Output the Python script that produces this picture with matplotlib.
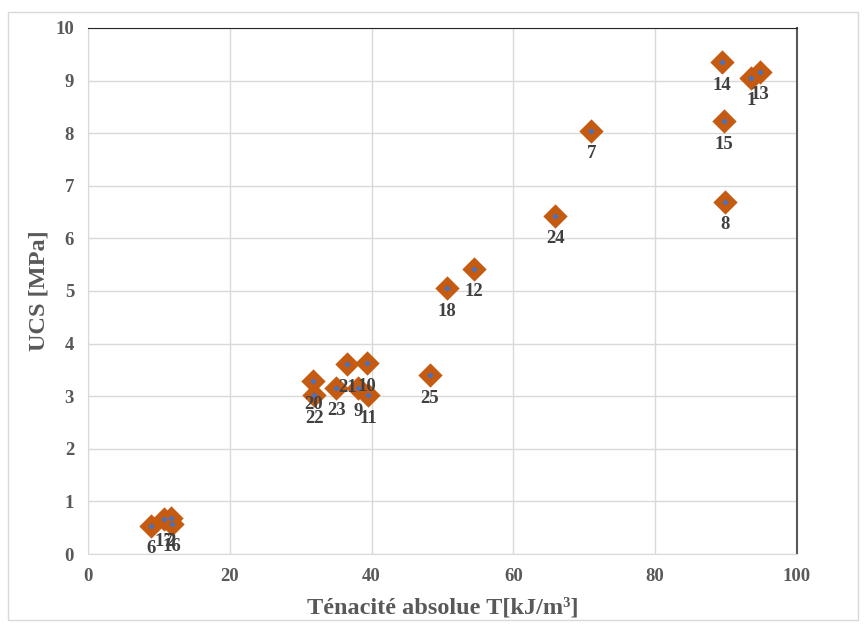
import matplotlib
matplotlib.use('Agg')
import matplotlib.pyplot as plt
from matplotlib.patches import Rectangle

# data
sample_ids = ['1', '2', '6', '7', '8', '9', '10', '11', '12', '13', '14', '15',
              '16', '17', '18', '20', '21', '22', '23', '24', '25']
toughness_kj_m3 = [93.6, 11.7, 8.9, 71.0, 89.9, 38.1, 39.4, 39.5, 54.4, 94.8, 89.4, 89.7,
                   11.8, 10.7, 50.7, 31.8, 36.6, 31.9, 35.0, 65.9, 48.2]
ucs_mpa = [9.05, 0.68, 0.54, 8.05, 6.70, 3.15, 3.63, 3.02, 5.42, 9.17, 9.35, 8.23,
           0.58, 0.67, 5.05, 3.28, 3.61, 3.02, 3.16, 6.43, 3.40]

x_ticks = [0, 20, 40, 60, 80, 100]
y_ticks = list(range(0, 11))

plt.rcParams['font.family'] = ['Liberation Serif', 'DejaVu Serif']

fig = plt.figure(figsize=(8.67, 6.26), dpi=100)
ax = fig.add_axes([0.1015, 0.115, 0.8175, 0.8403])

# outer chart frame
fig.patches.append(Rectangle((8 / 867, 1 - 620 / 626), 850 / 867, 608 / 626,
                             transform=fig.transFigure, fill=False,
                             edgecolor='#D9D9D9', linewidth=1.0))

ax.grid(True, color='#D9D9D9', linewidth=1.0, zorder=0)
ax.set_axisbelow(True)

ax.plot(toughness_kj_m3, ucs_mpa, linestyle='none', marker='D', markersize=10,
        markerfacecolor='#C55A11', markeredgecolor='#C55A11', markeredgewidth=2.2,
        zorder=3)
ax.plot(toughness_kj_m3, ucs_mpa, linestyle='none', marker='D', markersize=3.2,
        markerfacecolor='#4472C4', markeredgecolor='#4472C4', markeredgewidth=0,
        zorder=4)

for lab, x, y in zip(sample_ids, toughness_kj_m3, ucs_mpa):
    ax.annotate(lab, (x, y), xytext=(0, -23), textcoords='offset pixels',
                ha='center', va='center', fontsize=13.5, fontweight='bold',
                color='#404040', zorder=5)

ax.set_xlim(0, 100)
ax.set_ylim(0, 10)
ax.set_xticks(x_ticks)
ax.set_yticks(y_ticks)
ax.tick_params(length=0, labelsize=13.5, labelcolor='#595959', pad=10)
for t in ax.get_xticklabels() + ax.get_yticklabels():
    t.set_fontweight('bold')

ax.spines['left'].set_color('#D9D9D9')
ax.spines['bottom'].set_color('#D9D9D9')
ax.spines['top'].set_color('#262626')
ax.spines['right'].set_color('#595959')
ax.spines['right'].set_linewidth(1.5)

ax.set_xlabel('Ténacité absolue T[kJ/m³]', fontsize=17.5, fontweight='bold',
              color='#595959', labelpad=9)
ax.set_ylabel('UCS [MPa]', fontsize=17.5, fontweight='bold', color='#595959',
              labelpad=4)

fig.savefig('out.png', dpi=100)
